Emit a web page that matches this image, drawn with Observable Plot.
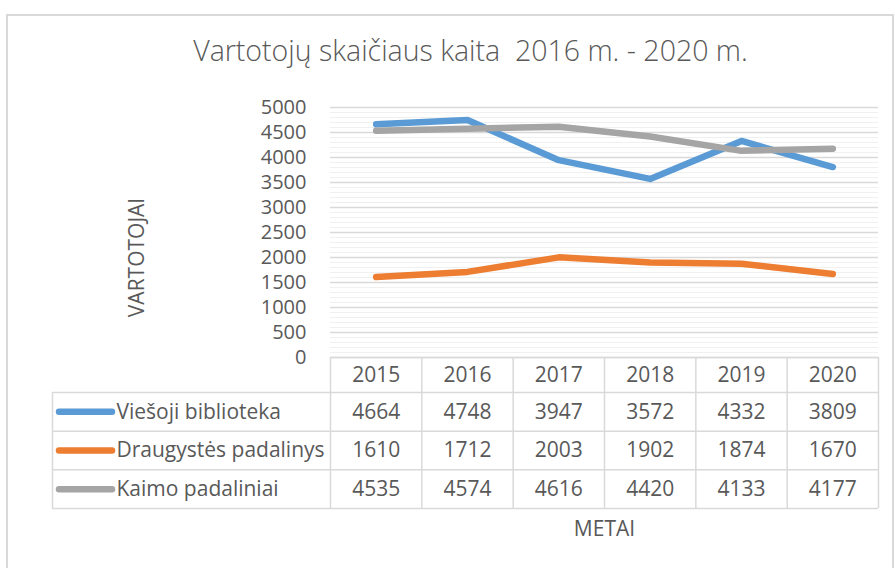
<!DOCTYPE html>
<html><head><meta charset="utf-8">
<script src="https://cdn.jsdelivr.net/npm/d3@7"></script>
<script src="https://cdn.jsdelivr.net/npm/@observablehq/plot@0.6"></script>
<style>
body{margin:0;background:#fff;}
#wrap{position:relative;width:895px;height:568px;overflow:hidden;background:#fff;font-family:"Open Sans",sans-serif;}
#frame{position:absolute;left:6px;top:14px;width:888px;height:620px;border:2px solid #d9d9d9;box-sizing:border-box;}
#wrap svg{position:absolute;left:0;top:0;overflow:visible;}
</style>
</head><body>
<div id="wrap"><div id="frame"></div></div>
<script>
// ---- data ----
const years = [2015, 2016, 2017, 2018, 2019, 2020];
const seriesNames = ["Viešoji biblioteka", "Draugystės padalinys", "Kaimo padaliniai"];
const viesoji = [4664, 4748, 3947, 3572, 4332, 3809];
const draugystes = [1610, 1712, 2003, 1902, 1874, 1670];
const kaimo = [4535, 4574, 4616, 4420, 4133, 4177];
const seriesColors = ["#5b9bd5", "#ed7d31", "#a5a5a5"];
const yTicks = [0, 500, 1000, 1500, 2000, 2500, 3000, 3500, 4000, 4500, 5000];
const titleText = "Vartotojų skaičiaus kaita  2016 m. - 2020 m.";
const yLabel = "VARTOTOJAI";
const xLabel = "METAI";

const seriesValues = [viesoji, draugystes, kaimo];
const data = seriesNames.flatMap((s, i) => years.map((yr, j) => ({series: s, year: yr, value: seriesValues[i][j], row: i})));

const W = 895, H = 568;
const plotL = 330, plotR = 878, plotT = 107, plotB = 357;
const tableL = 52, headerB = 392, tableB = 508;
const xDomain = [years[0] - 0.5, years[years.length - 1] + 0.5];
const colW = (plotR - plotL) / years.length;
const txt = "#595959";
const gridMajor = "#d9d9d9", gridMinor = "#f0f0f0";
const font = "Open Sans, sans-serif";

const minor = d3.range(100, 5001, 100).filter(v => v % 500 !== 0);

const chart = Plot.plot({
  width: W, height: H,
  marginLeft: plotL, marginRight: W - plotR, marginTop: plotT, marginBottom: H - plotB,
  style: {fontFamily: font, fontSize: "20px", color: txt, background: "transparent"},
  x: {domain: xDomain, axis: null},
  y: {domain: [0, 5000], ticks: yTicks, tickSize: 0, tickPadding: 24, label: null, tickFormat: d => String(d)},
  color: {domain: seriesNames, range: seriesColors},
  marks: [
    Plot.ruleY(minor, {stroke: gridMinor, strokeWidth: 1}),
    Plot.ruleY(yTicks, {stroke: gridMajor, strokeWidth: 1.3}),
    Plot.line(data, {x: "year", y: "value", z: "series", stroke: "series", strokeWidth: 6.5, strokeLinecap: "round", strokeLinejoin: "round"}),
    Plot.text([titleText], {frameAnchor: "top", dx: 470 - (plotL + plotR) / 2, dy: -56, lineAnchor: "middle", fontSize: 28.5, fontWeight: 300, fill: txt}),
    Plot.text([yLabel], {frameAnchor: "left", textAnchor: "middle", lineAnchor: "middle", dx: 137 - plotL, dy: 257 - (plotT + plotB) / 2, rotate: -90, fill: txt, fontSize: 21})
  ]
});

// table layout (row positions in table-local units)
const hdr = headerB - plotB;
const rowH = (tableB - headerB) / seriesNames.length;
const rowTop = i => hdr + i * rowH;          // i = series index
const rowMid = i => hdr + (i + 0.5) * rowH;
const xLeftVal = xDomain[0] - (plotL - tableL) / colW;
const px = p => xDomain[0] + (p - plotL) / colW;
const bounds = d3.range(years.length + 1).map(i => xDomain[0] + i);
const hLines = d3.range(seriesNames.length + 1).map(rowTop);

const table = Plot.plot({
  width: W, height: H,
  marginLeft: tableL, marginRight: W - plotR, marginTop: plotB, marginBottom: H - tableB,
  style: {fontFamily: font, fontSize: "21px", color: txt, background: "transparent"},
  x: {domain: [xLeftVal, xDomain[1]], axis: null},
  y: {domain: [0, tableB - plotB], range: [plotB, tableB], axis: null},
  color: {domain: seriesNames, range: seriesColors},
  marks: [
    Plot.ruleX(bounds, {x: d => d, y1: 0, y2: tableB - plotB, stroke: gridMajor, strokeWidth: 1.5}),
    Plot.ruleX([xLeftVal], {x: d => d, y1: hdr, y2: tableB - plotB, stroke: gridMajor, strokeWidth: 1.5}),
    Plot.ruleY([0], {y: d => d, x1: xDomain[0], x2: xDomain[1], stroke: gridMajor, strokeWidth: 1.5}),
    Plot.ruleY(hLines, {y: d => d, x1: xLeftVal, x2: xDomain[1], stroke: gridMajor, strokeWidth: 1.5}),
    Plot.text(years, {x: d => d, y: hdr / 2, text: d => String(d), fill: txt}),
    Plot.text(data, {x: "year", y: d => rowMid(d.row), text: d => String(d.value), fill: txt}),
    Plot.ruleY(seriesNames, {y: (d, i) => rowMid(i), x1: px(59), x2: px(112), stroke: d => d, strokeWidth: 6.5, strokeLinecap: "round"}),
    Plot.text(seriesNames, {x: px(116), y: (d, i) => rowMid(i), text: d => d, textAnchor: "start", fill: txt}),
    Plot.text([xLabel], {frameAnchor: "bottom", dx: 604 - (tableL + plotR) / 2, dy: 21, lineAnchor: "middle", fill: txt})
  ]
});

const wrap = document.getElementById("wrap");
wrap.appendChild(chart);
wrap.appendChild(table);
</script>
</body></html>
